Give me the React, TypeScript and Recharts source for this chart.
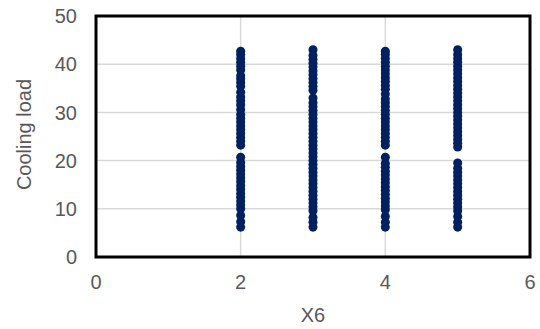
import { ScatterChart, Scatter, XAxis, YAxis, ZAxis, CartesianGrid, ReferenceArea } from "recharts"

// X6 levels and cooling load values
const x6Levels = [2, 3, 4, 5]

const load2 = [6.2, 7.3, 8.6, 10.0, 10.8, 11.6, 12.4, 13.2, 14.0, 14.8, 15.6, 16.4, 17.2, 18.0, 18.8, 19.6, 20.7,
  23.2, 24.0, 24.8, 25.6, 26.4, 27.2, 28.0, 28.8, 29.6, 30.6, 31.6, 32.4, 33.2, 34.2, 35.4, 36.2, 37.0, 37.6, 38.8, 39.6, 40.4, 41.2, 42.0, 42.7]
const load3 = [6.2, 7.2, 8.2, 9.6, 10.4, 11.2, 12.0, 12.8, 13.6, 14.4, 15.2, 16.0, 16.8, 17.6, 18.4, 19.2, 20.0, 20.8, 21.6,
  22.4, 23.2, 24.0, 24.8, 25.6, 26.4, 27.2, 28.0, 28.8, 29.6, 30.4, 31.2, 32.0, 33.0, 34.6, 35.4, 36.2, 37.0, 37.8, 38.6, 39.4, 40.2, 41.0, 41.8, 43.0]
const load4 = [6.2, 7.2, 8.4, 9.8, 10.6, 11.4, 12.2, 13.0, 13.8, 14.6, 15.4, 16.2, 17.0, 17.8, 18.6, 19.4, 20.7,
  23.2, 24.0, 24.8, 25.6, 26.4, 27.2, 28.0, 28.8, 29.6, 30.4, 31.2, 32.0, 32.8, 33.8, 34.8, 35.6, 36.4, 37.2, 38.0, 38.8, 39.6, 40.4, 41.2, 42.0, 42.7]
const load5 = [6.2, 7.2, 8.4, 9.6, 10.4, 11.2, 12.0, 12.8, 13.6, 14.4, 15.2, 16.0, 16.8, 17.6, 18.4, 19.5,
  22.8, 23.6, 24.4, 25.2, 26.0, 26.8, 27.6, 28.4, 29.2, 30.0, 30.8, 31.6, 32.4, 33.2, 34.0, 34.8, 35.6, 36.4, 37.2, 38.0, 38.8, 39.6, 40.4, 41.2, 42.0, 43.0]

const xTicks = [0, 2, 4, 6]
const yTicks = [0, 10, 20, 30, 40, 50]

const points = [load2, load3, load4, load5].flatMap((vals, i) =>
  vals.map((y) => ({ x: x6Levels[i], y }))
)

const font = "'Liberation Sans', Arial, sans-serif"
const tickStyle = { fill: "#595959", fontSize: 20, fontFamily: font }

export default function App() {
  return (
    <div style={{ position: "absolute", left: 0, top: 0, width: 540, height: 329, background: "#fff" }}>
      <ScatterChart width={540} height={329} margin={{ top: 16, right: 10, bottom: 0, left: 0 }}>
        <CartesianGrid stroke="#d9d9d9" strokeWidth={1.5} />
        <XAxis
          type="number"
          dataKey="x"
          domain={[0, 6]}
          ticks={xTicks}
          axisLine={false}
          tickLine={false}
          tickSize={0}
          tickMargin={18}
          height={72}
          tick={tickStyle}
          label={{ value: "X6", position: "insideBottom", offset: 7, fill: "#595959", fontSize: 20, fontFamily: font }}
        />
        <YAxis
          type="number"
          dataKey="y"
          domain={[0, 50]}
          ticks={yTicks}
          axisLine={false}
          tickLine={false}
          tickSize={0}
          tickMargin={19}
          width={96}
          tick={tickStyle}
          label={({ viewBox }: any) => {
            const cx = viewBox.x + 24
            const cy = viewBox.y + viewBox.height / 2 - 2
            return (
              <text
                x={cx}
                y={cy}
                transform={`rotate(-90, ${cx}, ${cy})`}
                textAnchor="middle"
                dominantBaseline="central"
                fill="#595959"
                fontSize={20}
                fontFamily={font}
              >
                Cooling load
              </text>
            )
          }}
        />
        <ZAxis range={[80, 80]} />
        <Scatter data={points} fill="#002060" shape="circle" isAnimationActive={false} />
        <ReferenceArea x1={0} x2={6} y1={0} y2={50} fill="none" stroke="#000" strokeWidth={3} ifOverflow="visible" />
      </ScatterChart>
    </div>
  )
}
